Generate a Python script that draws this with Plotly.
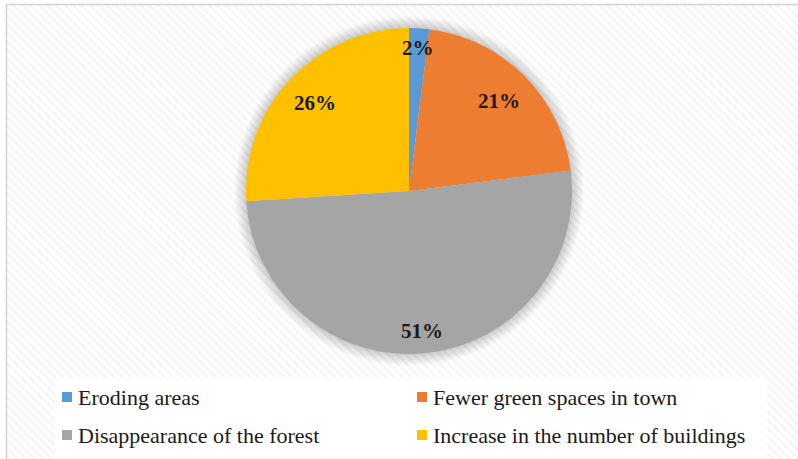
import numpy as np
import plotly.graph_objects as go

# Survey shares (percent)
categories = ["Eroding areas", "Fewer green spaces in town",
              "Disappearance of the forest", "Increase in the number of buildings"]
shares = [2, 21, 51, 26]
colors = ["#5B9BD5", "#ED7D31", "#A5A5A5", "#FFC000"]

W, H = 798, 459
cx, cy, R = 409, 191, 163          # pie centre and radius in pixels
label_radius = [0.88, 0.78, 0.865, 0.79]  # label distance from centre, fraction of R
SERIF = "Liberation Serif, Times New Roman, Times, serif"


def pie_domain(radius):
    return dict(x=[(cx - radius) / W, (cx + radius) / W],
                y=[(H - cy - radius) / H, (H - cy + radius) / H])


fig = go.Figure()

# striped chart-area background
fig.add_trace(go.Bar(
    x=[402.5], y=[H - 5], base=[5], width=[W - 7],
    marker=dict(color="white", line=dict(width=0),
                pattern=dict(shape="\\", fgcolor="#e9e9e9", bgcolor="white",
                             size=6, solidity=0.35)),
    hoverinfo="skip", showlegend=False))

# soft shadow: translucent discs slightly larger than the pie
for k in range(12, 0, -1):
    fig.add_trace(go.Pie(
        values=[1], labels=["shadow"], sort=False, textinfo="none",
        marker=dict(colors=["rgba(0,0,0,0.016)"], line=dict(width=0)),
        hoverinfo="skip", showlegend=False, domain=pie_domain(R + k)))

# the pie itself
fig.add_trace(go.Pie(
    labels=categories, values=shares, sort=False, direction="clockwise",
    rotation=0, marker=dict(colors=colors, line=dict(width=0)),
    textinfo="none", hoverinfo="label+percent", showlegend=False,
    domain=pie_domain(R)))

annotations = []
# percentage labels placed along each slice bisector
total = sum(shares)
start = 0.0
for v, rf in zip(shares, label_radius):
    mid = (start + v / 2) / total * 2 * np.pi
    start += v
    annotations.append(dict(
        x=float(cx + rf * R * np.sin(mid)), y=float(cy - rf * R * np.cos(mid)),
        xref="x", yref="y", text=f"{v}%", showarrow=False,
        font=dict(family=SERIF, size=21, color="#1a1a1a", weight="bold")))

# white legend panel and two-column legend under the pie
shapes = [dict(type="rect", xref="x", yref="y", x0=55, x1=767, y0=377, y1=H,
               fillcolor="white", line=dict(width=0), layer="above")]
legend_pos = [(67, 397), (422, 397), (67, 435), (422, 435)]
for name, col, (sx, sy) in zip(categories, colors, legend_pos):
    shapes.append(dict(type="rect", xref="x", yref="y", layer="above",
                       x0=sx - 5, x1=sx + 5, y0=sy - 5, y1=sy + 5,
                       fillcolor=col, line=dict(width=0)))
    annotations.append(dict(
        x=sx + 9, y=sy, xref="x", yref="y", text=name, showarrow=False,
        font=dict(family=SERIF, size=22, color="#1a1a1a"),
        xanchor="left"))

# chart frame edges
shapes.append(dict(type="line", xref="x", yref="y", x0=6, x1=W, y0=4.5, y1=4.5,
                   line=dict(color="#d4d4d4", width=1.5)))
shapes.append(dict(type="line", xref="x", yref="y", x0=6.5, x1=6.5, y0=4, y1=H,
                   line=dict(color="#d4d4d4", width=1.5)))

fig.update_layout(
    width=W, height=H, margin=dict(l=0, r=0, t=0, b=0),
    font=dict(family=SERIF),
    paper_bgcolor="white", plot_bgcolor="white",
    xaxis=dict(range=[0, W], visible=False),
    yaxis=dict(range=[H, 0], visible=False),
    shapes=shapes, annotations=annotations)

fig.write_html("out.html")
